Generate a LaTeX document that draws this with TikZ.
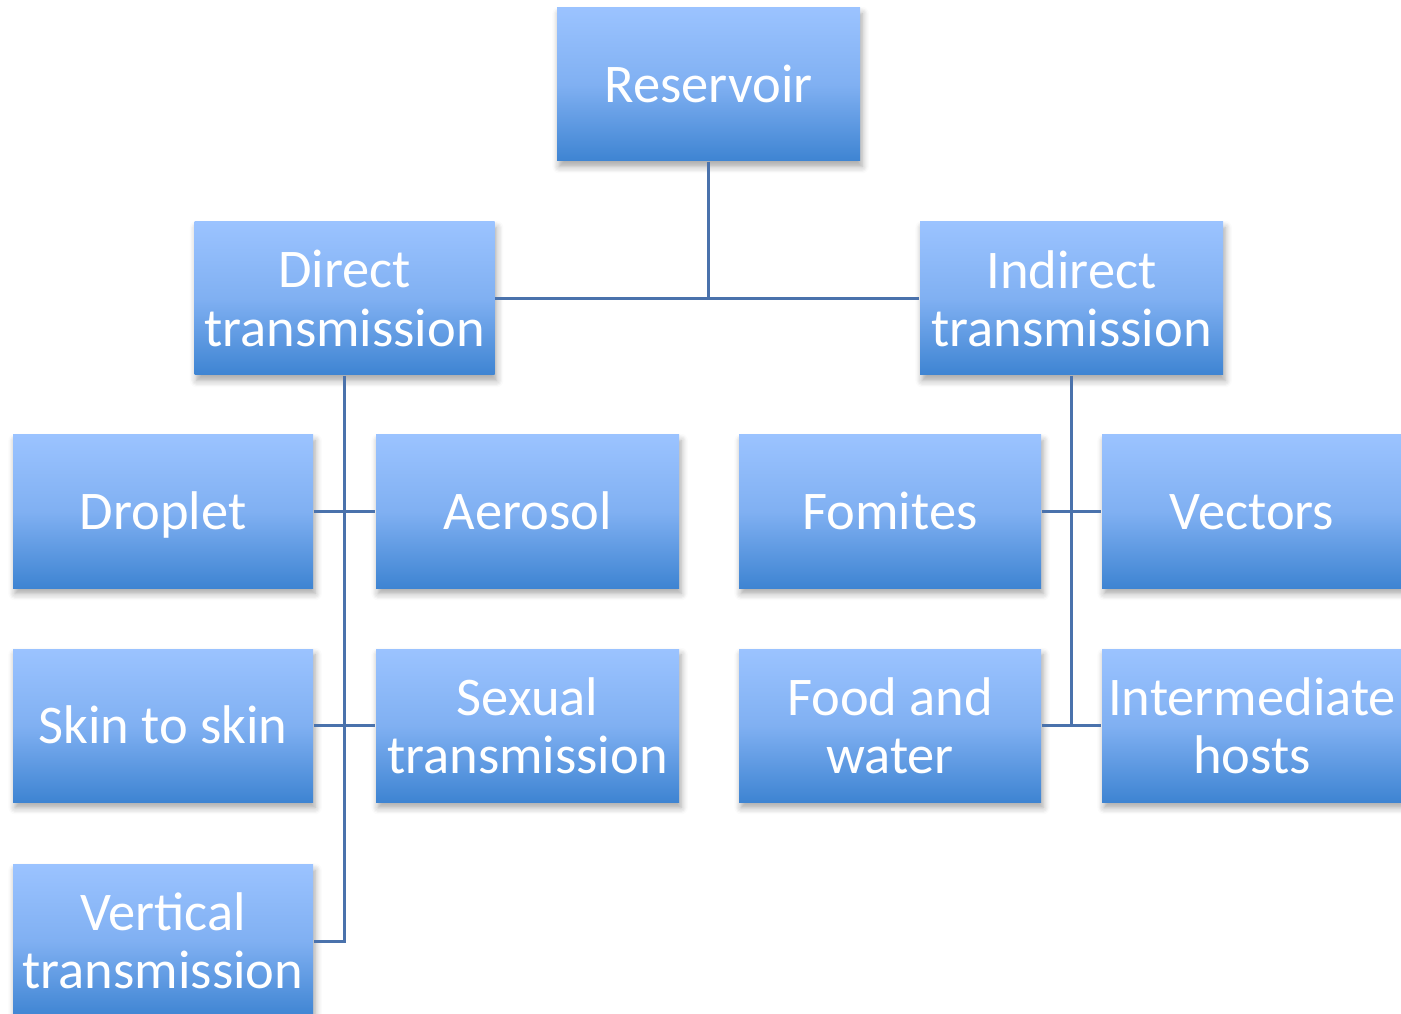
\documentclass[tikz,border=0pt]{standalone}
\usepackage{fontspec}
\setmainfont{Carlito}
\usepackage{xcolor}
\usepackage{tikz}
\usetikzlibrary{shapes,arrows,positioning,calc,shadows.blur}
\definecolor{boxtop}{RGB}{155,195,255}
\definecolor{boxmid}{RGB}{128,176,242}
\definecolor{boxbot}{RGB}{62,132,210}
\definecolor{linkblue}{RGB}{74,114,172}

\begin{document}
\begin{tikzpicture}[
    box/.style={rectangle, minimum width=3cm, minimum height=1.53cm, inner sep=0pt,
      top color=boxtop, bottom color=boxbot, middle color=boxmid,
      text=white, align=center, font=\fontsize{15.5}{16.6}\selectfont,
      blur shadow={shadow xshift=0.6pt, shadow yshift=-1.6pt, shadow blur steps=6, shadow opacity=35}},
    single/.style={text height=0.45cm, text depth=0.09cm},
    link/.style={draw=linkblue, line width=0.85pt}]
    \useasboundingbox (0,0) rectangle (14.01,-10.14);
    \node[box, single, minimum width=3.03cm] (res) at (7.085,-0.845) {Reservoir};
    \node[box] (direct) at (3.445,-2.985) {Direct\\transmission};
    \node[box, minimum width=3.03cm] (indirect) at (10.715,-2.985) {Indirect\\transmission};

    \node[box, single] (droplet) at (1.63,-5.115) {Droplet};
    \node[box, single, minimum width=3.03cm] (aerosol) at (5.275,-5.115) {Aerosol};
    \node[box, single, minimum width=3.02cm] (fomites) at (8.90,-5.115) {Fomites};
    \node[box, single] (vectors) at (12.52,-5.115) {Vectors};

    \node[box, single] (skin) at (1.63,-7.255) {Skin to skin};
    \node[box, minimum width=3.03cm] (sexual) at (5.275,-7.255) {Sexual\\transmission};
    \node[box, minimum width=3.02cm] (food) at (8.90,-7.255) {Food and\\water};
    \node[box] (inter) at (12.52,-7.255) {Intermediate\\hosts};

    \node[box] (vertical) at (1.63,-9.41) {Vertical\\transmission};

    % connectors
    \draw[link] (res.south) |- (direct.east);
    \draw[link] (res.south) |- (indirect.west);
    \draw[link] (direct.south) |- (vertical.east);
    \draw[link] (droplet.east) -- (aerosol.west);
    \draw[link] (skin.east) -- (sexual.west);
    \draw[link] (indirect.south) |- (food.east);
    \draw[link] (fomites.east) -- (vectors.west);
    \draw[link] (food.east) -- (inter.west);
\end{tikzpicture}
\end{document}
